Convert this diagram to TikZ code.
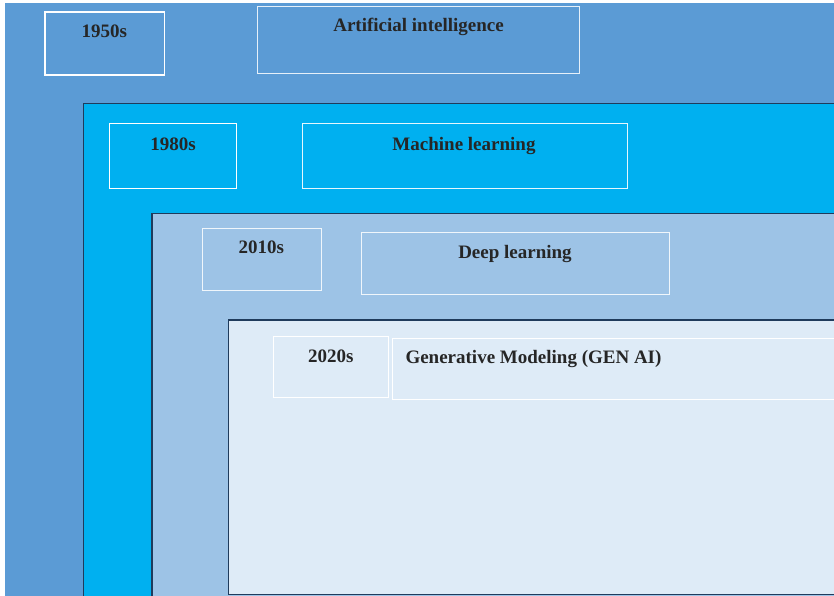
\documentclass[tikz,border=0pt]{standalone}
\usepackage{fontspec}
\setmainfont{Liberation Serif}
\definecolor{lvlA}{HTML}{5B9BD5}
\definecolor{lvlB}{HTML}{00B0F0}
\definecolor{lvlC}{HTML}{9DC3E6}
\definecolor{lvlD}{HTML}{DEEBF7}
\definecolor{edgeNavy}{HTML}{1F3B5C}
\definecolor{txt}{HTML}{262626}
\begin{document}
\begin{tikzpicture}[x=1pt,y=-1pt,
  level/.style={draw=edgeNavy, line width=1.5pt},
  tag/.style={draw=white, line width=1pt, rectangle, inner sep=0pt, anchor=north west},
  lbl/.style={font=\fontsize{19}{22}\selectfont\bfseries, text=txt, inner sep=0pt, anchor=base},
]
\useasboundingbox (0,0) rectangle (834,595);
\clip (0,0) rectangle (834,595);
% nested levels
\fill[lvlA] (5,3) rectangle (850,610);
\filldraw[level, fill=lvlB] (83.3,103.3) rectangle (850,610);
\filldraw[level, fill=lvlC] (151.8,213.3) rectangle (850,610);
\filldraw[level, fill=lvlD] (228.3,319.8) rectangle (850,594.5);
% tag boxes
\node[tag, line width=1.6pt, minimum width=119.5pt, minimum height=62.7pt] (b1950) at (44.3,11.3) {};
\node[tag, draw=white!85!lvlA, minimum width=322pt, minimum height=67.6pt] (bAI) at (257.3,5.7) {};
\node[tag, minimum width=127.6pt, minimum height=64.4pt] (b1980) at (108.7,123.3) {};
\node[tag, draw=white!90!lvlB, minimum width=324.7pt, minimum height=64.4pt] (bML) at (302,123.3) {};
\node[tag, draw=white!85!lvlC, minimum width=119pt, minimum height=62.3pt] (b2010) at (201.7,228) {};
\node[tag, draw=white!85!lvlC, minimum width=308pt, minimum height=62.3pt] (bDL) at (360.5,231.7) {};
\node[tag, minimum width=115pt, minimum height=60.4pt] (b2020) at (273.3,336.3) {};
\node[tag, minimum width=460pt, minimum height=60.7pt] (bGen) at (392,338.3) {};
% labels
\node[lbl] (t1950) at (104.3,37.8) {1950s};
\node[lbl] (tAI) at (418.5,31.8) {Artificial intelligence};
\node[lbl] (t1980) at (173,150) {1980s};
\node[lbl] (tML) at (464,150) {Machine learning};
\node[lbl] (t2010) at (261.3,253.3) {2010s};
\node[lbl] (tDL) at (515,258) {Deep learning};
\node[lbl] (t2020) at (330.8,362.8) {2020s};
\node[lbl, anchor=base west] (tGen) at (405.3,363.3) {Generative Modeling (GEN AI)};
\end{tikzpicture}
\end{document}
